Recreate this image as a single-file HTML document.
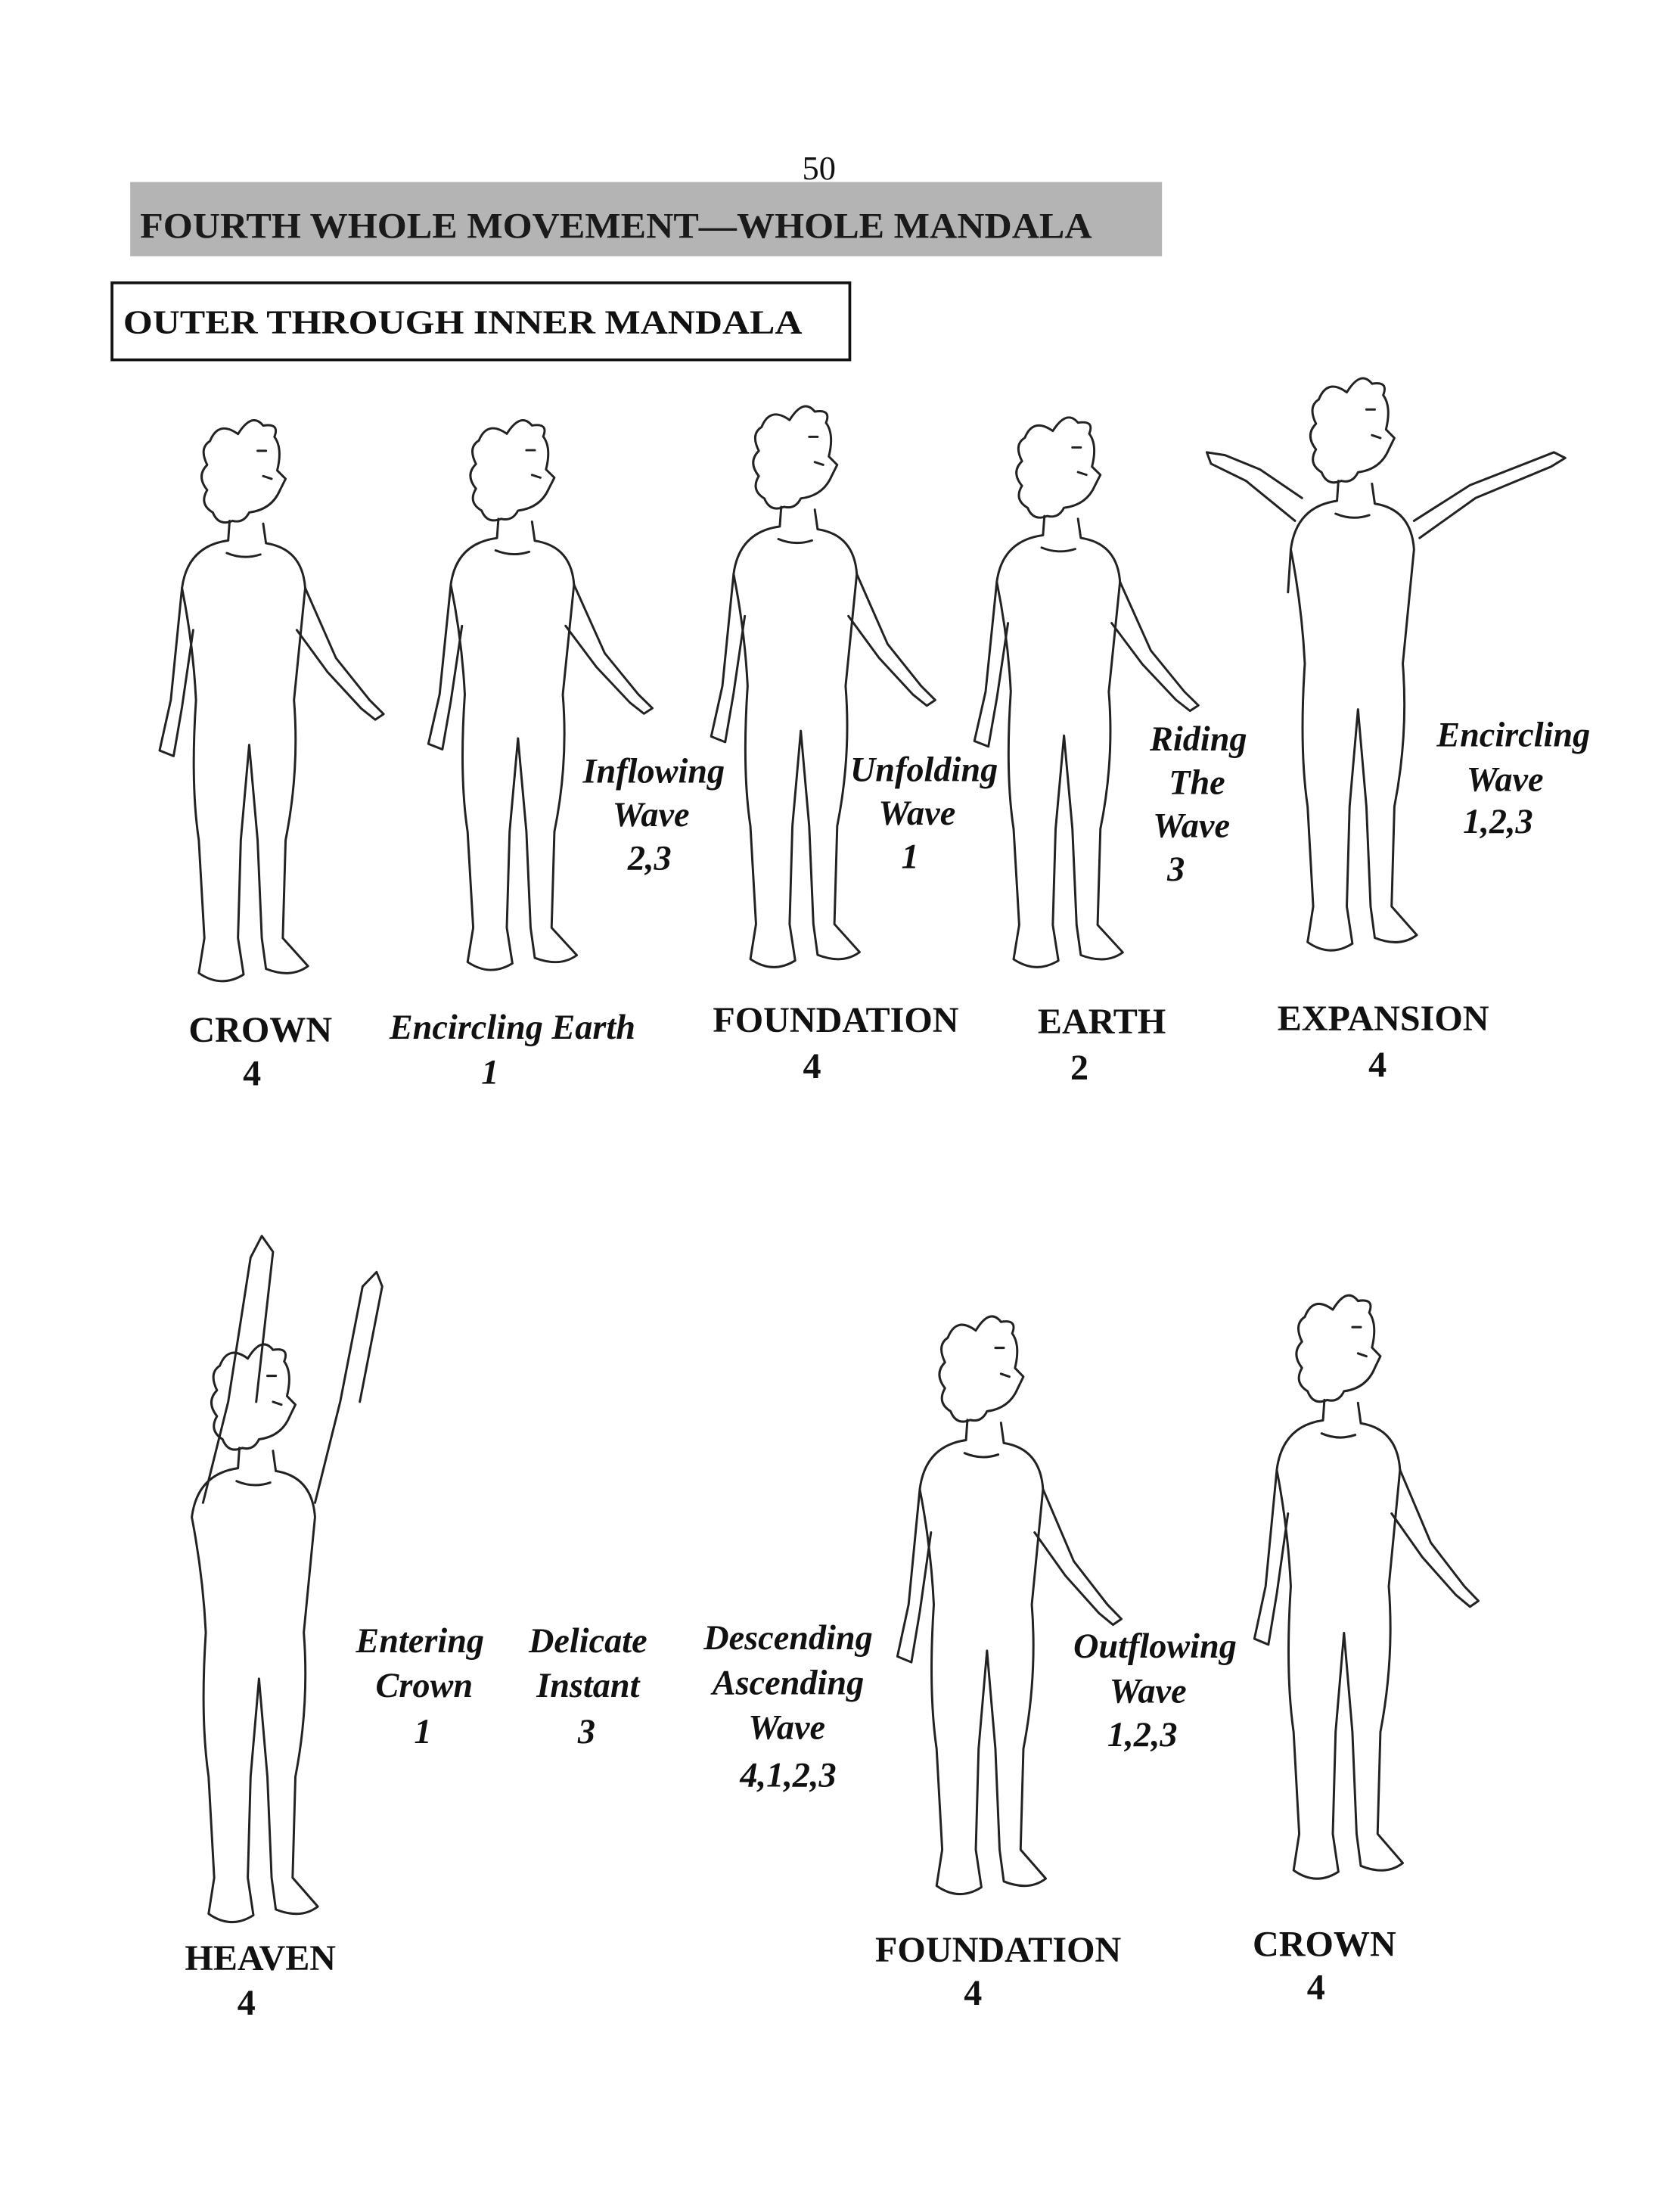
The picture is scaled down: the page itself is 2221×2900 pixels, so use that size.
<!DOCTYPE html>
<html><head><meta charset="utf-8"><style>
html,body{margin:0;padding:0;background:#fff}
svg{display:block}
.b{font-family:"Liberation Serif",serif;font-weight:bold;font-size:26px;fill:#111}
.i{font-family:"Liberation Serif",serif;font-weight:bold;font-style:italic;font-size:25px;fill:#111}
.f{fill:none;stroke:#222;stroke-width:1.6;stroke-linejoin:round;stroke-linecap:round}
</style></head><body>
<svg width="2221" height="2900" viewBox="0 0 1200 1567" preserveAspectRatio="none" xmlns="http://www.w3.org/2000/svg">
<defs>
<g id="body" class="f">
<path d="M-14,72 L-15,86 Q-44,90 -48,120 Q-40,160 -38,200 Q-42,260 -36,300 L-32,370 L-36,395 Q-20,406 -4,396 L-8,370 L-6,300 L0,232 L6,300 L9,370 L12,392 Q30,399 42,390 L24,370 L26,300 Q36,250 32,200 Q36,160 40,120 Q38,92 12,88 L10,74"/>
<path d="M-16,95 Q-4,100 8,96"/>
</g>
<g id="armL" class="f"><path d="M-48,120 L-56,200 L-64,236 L-54,240 L-48,205 L-40,150"/></g>
<g id="head" class="f">
<path d="M-8,10 Q-22,0 -28,15 Q-36,20 -30,32 Q-38,40 -30,50 Q-36,60 -26,66 Q-22,76 -12,72 Q-4,74 0,66 Q16,64 22,50 L26,42 L20,36 Q24,20 18,12 Q22,2 10,4 Q2,-6 -8,10"/>
<path d="M6,22 L12,22 M10,40 L16,42"/>
</g>
<g id="armR" class="f"><path d="M40,120 L62,170 L86,200 L96,210 L90,214 L80,206 L56,180 L34,150"/></g>
<g id="fig"><use href="#body"/><use href="#armL"/><use href="#head"/><use href="#armR"/></g>
</defs>

<text x="585" y="128" class="b" style="font-weight:normal;font-size:24px" text-anchor="middle">50</text>
<rect x="93" y="130" width="737" height="53" fill="#b4b4b4"/>
<text x="100" y="170" class="b" style="font-size:26px;fill:#1a1a1a" textLength="680" lengthAdjust="spacingAndGlyphs">FOURTH WHOLE MOVEMENT—WHOLE MANDALA</text>
<rect x="80" y="202" width="527" height="55" fill="none" stroke="#111" stroke-width="2"/>
<text x="88" y="238" class="b" style="font-size:24px" textLength="485" lengthAdjust="spacingAndGlyphs">OUTER THROUGH INNER MANDALA</text>

<use href="#fig" transform="translate(178,300)"/>
<use href="#fig" transform="translate(370,300) scale(1,0.98)"/>
<use href="#fig" transform="translate(572,290)"/>
<use href="#fig" transform="translate(760,298) scale(1,0.98)"/>
<g transform="translate(970,270) scale(1,1.02)">
<use href="#body"/><use href="#head"/>
<path class="f" d="M-45,100 L-80,72 L-105,60 L-108,52 L-95,54 L-70,64 L-40,84 M40,100 L80,75 L140,52 L148,56 L138,62 L84,84 L44,112"/>
<path class="f" d="M-48,120 L-50,150"/>
</g>
<g transform="translate(185,960) scale(1,1.03)">
<use href="#body"/><use href="#head"/>
<path class="f" d="M-40,110 L-22,40 L-6,-60 L2,-75 L10,-64 L-2,40 M40,110 L58,40 L74,-40 L84,-50 L88,-40 L72,40"/>
</g>
<use href="#fig" transform="translate(705,940) scale(1,1.03)"/>
<use href="#fig" transform="translate(960,925) scale(1,1.04)"/>

<g class="b" text-anchor="middle">
<text x="186" y="744">CROWN</text><text x="180" y="775">4</text>
<text x="597" y="737">FOUNDATION</text><text x="580" y="770">4</text>
<text x="787" y="738">EARTH</text><text x="771" y="771">2</text>
<text x="988" y="736">EXPANSION</text><text x="984" y="769">4</text>
<text x="186" y="1407">HEAVEN</text><text x="176" y="1439">4</text>
<text x="713" y="1401">FOUNDATION</text><text x="695" y="1432">4</text>
<text x="946" y="1397">CROWN</text><text x="940" y="1428">4</text>
</g>
<g class="i" text-anchor="middle">
<text x="366" y="742">Encircling Earth</text><text x="350" y="774">1</text>
<text x="467" y="559">Inflowing</text><text x="465" y="590">Wave</text><text x="464" y="621">2,3</text>
<text x="660" y="558">Unfolding</text><text x="655" y="589">Wave</text><text x="650" y="620">1</text>
<text x="856" y="536">Riding</text><text x="855" y="567">The</text><text x="851" y="598">Wave</text><text x="840" y="629">3</text>
<text x="1081" y="533">Encircling</text><text x="1075" y="565">Wave</text><text x="1070" y="595">1,2,3</text>
<text x="300" y="1180">Entering</text><text x="303" y="1212">Crown</text><text x="302" y="1245">1</text>
<text x="420" y="1180">Delicate</text><text x="420" y="1212">Instant</text><text x="419" y="1245">3</text>
<text x="563" y="1178">Descending</text><text x="563" y="1210">Ascending</text><text x="562" y="1242">Wave</text><text x="563" y="1276">4,1,2,3</text>
<text x="825" y="1184">Outflowing</text><text x="820" y="1216">Wave</text><text x="816" y="1247">1,2,3</text>
</g>
</svg>
</body></html>
